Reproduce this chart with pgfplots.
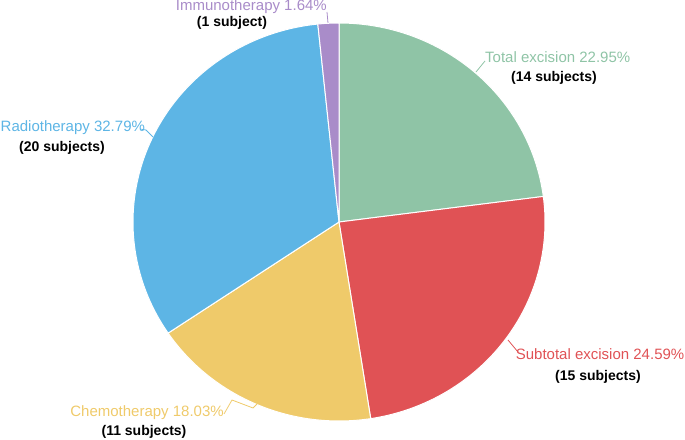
\documentclass[border=0pt]{standalone}
\usepackage{pgfplots}
\pgfplotsset{compat=1.18}
\usepackage{fontspec}
\setmainfont{Liberation Sans}
\definecolor{cTE}{HTML}{8FC4A6}
\definecolor{cSE}{HTML}{E05255}
\definecolor{cCH}{HTML}{EFCA6A}
\definecolor{cRT}{HTML}{5DB5E5}
\definecolor{cIM}{HTML}{A98CC9}
% shares in percent, clockwise from 12 o'clock
\def\vTE{22.95}
\def\vSE{24.59}
\def\vCH{18.03}
\def\vRT{32.79}
\def\vIM{1.64}
\begin{document}
\begin{tikzpicture}
\pgfmathsetmacro{\aA}{90}
\pgfmathsetmacro{\aB}{\aA-3.6*\vTE}
\pgfmathsetmacro{\aC}{\aB-3.6*\vSE}
\pgfmathsetmacro{\aD}{\aC-3.6*\vCH}
\pgfmathsetmacro{\aE}{\aD-3.6*\vRT}
\pgfmathsetmacro{\aF}{\aE-3.6*\vIM}
\def\cx{339}\def\cy{217}\def\rx{206}\def\ry{199}
\begin{axis}[
  scale only axis, width=685pt, height=439pt,
  xmin=0, xmax=685, ymin=0, ymax=439,
  hide axis, clip=false,
]
\addplot[fill=cTE, draw=white, line width=1pt, domain=\aB:\aA, samples=80, variable=\t]
  ({\cx+\rx*cos(\t)},{\cy+\ry*sin(\t)}) -- (axis cs:\cx,\cy) -- cycle;
\addplot[fill=cSE, draw=white, line width=1pt, domain=\aC:\aB, samples=80, variable=\t]
  ({\cx+\rx*cos(\t)},{\cy+\ry*sin(\t)}) -- (axis cs:\cx,\cy) -- cycle;
\addplot[fill=cCH, draw=white, line width=1pt, domain=\aD:\aC, samples=80, variable=\t]
  ({\cx+\rx*cos(\t)},{\cy+\ry*sin(\t)}) -- (axis cs:\cx,\cy) -- cycle;
\addplot[fill=cRT, draw=white, line width=1pt, domain=\aE:\aD, samples=100, variable=\t]
  ({\cx+\rx*cos(\t)},{\cy+\ry*sin(\t)}) -- (axis cs:\cx,\cy) -- cycle;
\addplot[fill=cIM, draw=white, line width=1pt, domain=\aF:\aE, samples=10, variable=\t]
  ({\cx+\rx*cos(\t)},{\cy+\ry*sin(\t)}) -- (axis cs:\cx,\cy) -- cycle;
% leader lines
\addplot[cIM, line width=0.8pt] coordinates {(327,427) (328,416)};
\addplot[cTE, line width=0.8pt] coordinates {(476,367) (485,378)};
\addplot[cRT, line width=0.8pt] coordinates {(140,310) (146,309) (153,302)};
\addplot[cSE, line width=0.8pt] coordinates {(508,99) (518,87)};
\addplot[cCH, line width=0.8pt] coordinates {(224,25) (232,39) (253,31) (257,35)};
% labels
\tikzset{lab/.style={inner sep=0pt, font=\fontsize{15}{17}\selectfont},
         sub/.style={anchor=base, inner sep=0pt, text=black, font=\fontsize{14}{17}\selectfont\bfseries}}
\node[lab, anchor=base east, text=cIM] at (axis cs:327,428) {Immunotherapy 1.64\%};
\node[sub] at (axis cs:232,412) {(1 subject)};
\node[lab, anchor=base west, text=cTE] at (axis cs:485,376) {Total excision 22.95\%};
\node[sub] at (axis cs:554,357) {(14 subjects)};
\node[lab, anchor=base west, text=cRT] at (axis cs:0.5,307) {Radiotherapy 32.79\%};
\node[sub] at (axis cs:62,287) {(20 subjects)};
\node[lab, anchor=base east, text=cSE] at (axis cs:684.5,79) {Subtotal excision 24.59\%};
\node[sub] at (axis cs:598,59) {(15 subjects)};
\node[lab, anchor=base east, text=cCH] at (axis cs:224,23) {Chemotherapy 18.03\%};
\node[sub] at (axis cs:144,4) {(11 subjects)};
\end{axis}
\pgfresetboundingbox
\path (0,0) rectangle (685pt,439pt);
\end{tikzpicture}
\end{document}
